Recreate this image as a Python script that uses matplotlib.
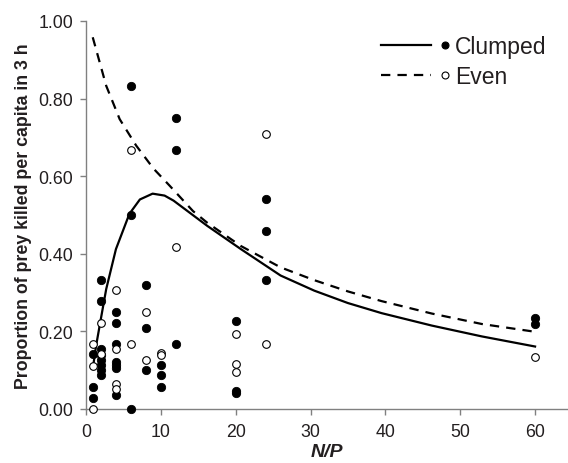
import numpy as np
import matplotlib
matplotlib.use('Agg')
import matplotlib.pyplot as plt
from matplotlib.lines import Line2D
from matplotlib.legend_handler import HandlerBase
from matplotlib.ticker import FormatStrFormatter

# observed points (N/P, proportion killed)
clumped_x = [1, 1, 1,
             2, 2, 2, 2, 2, 2, 2, 2,
             4, 4, 4, 4, 4, 4, 4,
             6, 6, 6,
             8, 8, 8,
             10, 10, 10,
             12, 12, 12,
             20, 20, 20,
             24, 24, 24,
             60, 60]
clumped_y = [0.143, 0.056, 0.028,
             0.333, 0.278, 0.155, 0.140, 0.127, 0.114, 0.101, 0.088,
             0.250, 0.222, 0.167, 0.122, 0.114, 0.105, 0.037,
             0.833, 0.500, 0.0,
             0.320, 0.208, 0.100,
             0.114, 0.087, 0.057,
             0.750, 0.667, 0.167,
             0.227, 0.047, 0.041,
             0.542, 0.458, 0.333,
             0.235, 0.219]

even_x = [1, 1, 1,
          2, 2,
          4, 4, 4, 4,
          6, 6,
          8, 8,
          10, 10,
          12,
          20, 20, 20,
          24, 24,
          60]
even_y = [0.167, 0.111, 0.0,
          0.222, 0.143,
          0.306, 0.155, 0.065, 0.052,
          0.667, 0.167,
          0.250, 0.125,
          0.144, 0.139,
          0.417,
          0.193, 0.116, 0.095,
          0.708, 0.167,
          0.133]

# fitted curves
clumped_fit_x = [0.9, 1.35, 1.9, 2.7, 4.0, 5.8, 7.2, 8.9, 10.5, 11.7, 16.2,
                 20.7, 26.0, 30.5, 35.0, 39.5, 46.2, 52.9, 60.0]
clumped_fit_y = [0.103, 0.163, 0.223, 0.309, 0.412, 0.503, 0.540, 0.555, 0.550,
                 0.537, 0.472, 0.412, 0.344, 0.305, 0.273, 0.247, 0.215, 0.187, 0.161]

even_fit_x = [0.9, 2.7, 4.5, 6.7, 9.0, 11.2, 14.3, 16.2, 20.7, 26.0, 30.5,
              35.0, 39.5, 46.2, 52.9, 60.0]
even_fit_y = [0.958, 0.833, 0.747, 0.679, 0.620, 0.575, 0.510, 0.480, 0.420,
              0.365, 0.332, 0.303, 0.278, 0.246, 0.219, 0.199]

plt.rcParams['font.family'] = ['Liberation Sans', 'DejaVu Sans']


class LineDot(HandlerBase):
    # line segment followed by a small marker, like the original key
    def create_artists(self, legend, orig_handle, xdescent, ydescent,
                       width, height, fontsize, trans):
        y = height / 2 - ydescent
        x0 = -xdescent
        line = Line2D([x0, x0 + width * 0.71], [y, y], color='black',
                      lw=1.6, ls=orig_handle.get_linestyle())
        if orig_handle.get_linestyle() == '--':
            line.set_dashes((4.2, 3.2))
        dot = Line2D([x0 + width * 0.905], [y], ls='none', marker='o', ms=5,
                     mfc=orig_handle.get_markerfacecolor(), mec='black', mew=0.8)
        line.set_transform(trans)
        dot.set_transform(trans)
        return [line, dot]


fig = plt.figure(figsize=(5.68, 4.64), dpi=100)
ax = fig.add_axes([0.1514, 0.1164, 0.8486, 0.8362])

ax.plot(clumped_fit_x, clumped_fit_y, color='black', lw=1.6, ls='-')
ax.plot(even_fit_x, even_fit_y, color='black', lw=1.6, dashes=(4.2, 3.2))

ax.plot(clumped_x, clumped_y, ls='none', marker='o', ms=6, mfc='black',
        mec='black', mew=0.6, clip_on=False, zorder=5)
ax.plot(even_x, even_y, ls='none', marker='o', ms=5.5, mfc='white',
        mec='black', mew=0.8, clip_on=False, zorder=5)

ax.set_xlim(0, 64.4)
ax.set_ylim(0, 1.0)
ax.set_xticks([0, 10, 20, 30, 40, 50, 60])
ax.set_yticks([0, 0.2, 0.4, 0.6, 0.8, 1.0])
ax.yaxis.set_major_formatter(FormatStrFormatter('%.2f'))

for s in ['top', 'right']:
    ax.spines[s].set_visible(False)
for s in ['left', 'bottom']:
    ax.spines[s].set_color('#808080')
    ax.spines[s].set_linewidth(1.0)
ax.tick_params(direction='out', length=4, width=1, color='#808080',
               labelsize=12.8, labelcolor='#231f20')
ax.tick_params(axis='x', pad=6)
ax.tick_params(axis='y', pad=5)

ax.set_xlabel('N/P', fontsize=14, fontweight='bold', style='italic',
              color='#231f20', labelpad=2)
ax.set_ylabel('Proportion of prey killed per capita in 3 h', fontsize=12.8,
              fontweight='bold', color='#231f20', labelpad=5)

h1 = Line2D([], [], color='black', ls='-', marker='o', mfc='black')
h2 = Line2D([], [], color='black', ls='--', marker='o', mfc='white')
ax.legend([h1, h2], ['Clumped', 'Even'], handler_map={Line2D: LineDot()},
          loc='upper left', bbox_to_anchor=(0.612, 0.965), frameon=False,
          fontsize=16.5, handlelength=3.08, handletextpad=0.15,
          labelspacing=0.31, borderpad=0, borderaxespad=0,
          labelcolor='#231f20')

plt.savefig('out.png', dpi=100)
